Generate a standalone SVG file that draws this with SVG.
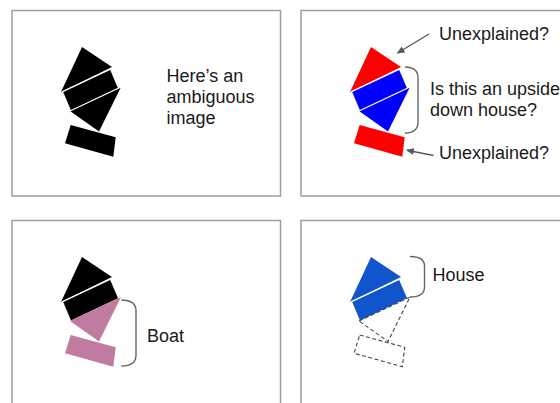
<svg xmlns="http://www.w3.org/2000/svg" xmlns:xlink="http://www.w3.org/1999/xlink" width="560" height="403" viewBox="0 0 560 403">
  <style>
    .panel { fill: #ffffff; stroke: #9e9e9e; stroke-width: 1.5; }
    .lbl { font-family: "Liberation Sans", Arial, sans-serif; font-size: 18px; fill: #1a1a1a; }
    .black { fill: #000000; }
    .red { fill: #ff0000; }
    .blue { fill: #0000ff; }
    .pink { fill: #c27ba0; }
    .hblue { fill: #1155cc; }
    .dash { fill: none; stroke: #444444; stroke-width: 1.1; stroke-dasharray: 4 2.5; }
    .gap { stroke: #ffffff; stroke-width: 1.3; fill: none; }
    .brace { fill: none; stroke: #666666; stroke-width: 1.4; }
    .arrow { fill: none; stroke: #595959; stroke-width: 1.4; marker-end: url(#head); }
  </style>
  <defs>
    <marker id="head" markerWidth="8" markerHeight="8" refX="7" refY="4" orient="auto" markerUnits="userSpaceOnUse">
      <path d="M0,0.5 L8,4 L0,7.5 Z" fill="#595959"/>
    </marker>
    <polygon id="roof" points="82,47 112,67 61,92"/>
    <polygon id="body" points="63,91.5 110,69.5 118,88.2 71,110.5"/>
    <polygon id="tri" points="70,111 121,87 99,131.5"/>
    <polygon id="base" points="70.7,125 115.7,137.3 113.3,156.7 65,143.3"/>
    <line id="gap1" x1="62" y1="91.8" x2="111" y2="69"/>
    <line id="gap2" x1="70" y1="111" x2="121" y2="87"/>
  </defs>

  <!-- Panel 1 -->
  <g id="panel1">
    <rect class="panel" x="12" y="10.5" width="268.5" height="185.5"/>
    <g id="shape1">
      <use xlink:href="#roof" class="black"/>
      <use xlink:href="#body" class="black"/>
      <use xlink:href="#tri" class="black"/>
      <use xlink:href="#base" class="black"/>
      <use xlink:href="#gap1" class="gap"/>
      <use xlink:href="#gap2" class="gap"/>
    </g>
    <text class="lbl" x="166.5" y="82">Here’s an</text>
    <text class="lbl" x="166.5" y="103">ambiguous</text>
    <text class="lbl" x="166.5" y="124">image</text>
  </g>

  <!-- Panel 2 -->
  <g id="panel2">
    <rect class="panel" x="301" y="10.5" width="300" height="185.5"/>
    <g id="shape2" transform="translate(289,0)">
      <use xlink:href="#roof" class="red"/>
      <use xlink:href="#body" class="blue"/>
      <use xlink:href="#tri" class="blue"/>
      <use xlink:href="#base" class="red"/>
      <use xlink:href="#gap1" class="gap"/>
      <use xlink:href="#gap2" class="gap"/>
    </g>
    <text class="lbl" x="439" y="40">Unexplained?</text>
    <text class="lbl" x="430" y="95">Is this an upside</text>
    <text class="lbl" x="430" y="116">down house?</text>
    <text class="lbl" x="439" y="159">Unexplained?</text>
  </g>

  <!-- Panel 3 -->
  <g id="panel3">
    <rect class="panel" x="12" y="220.5" width="268.5" height="200"/>
    <g id="shape3" transform="translate(0,210)">
      <use xlink:href="#roof" class="black"/>
      <use xlink:href="#body" class="black"/>
      <use xlink:href="#tri" class="pink"/>
      <use xlink:href="#base" class="pink"/>
      <use xlink:href="#gap1" class="gap"/>
    </g>
    <text class="lbl" x="147" y="342">Boat</text>
  </g>

  <!-- Panel 4 -->
  <g id="panel4">
    <rect class="panel" x="301" y="220.5" width="300" height="200"/>
    <g id="shape4" transform="translate(289,210)">
      <use xlink:href="#roof" class="hblue"/>
      <use xlink:href="#body" class="hblue"/>
      <use xlink:href="#gap1" class="gap"/>
      <use xlink:href="#tri" class="dash"/>
      <use xlink:href="#base" class="dash"/>
    </g>
    <text class="lbl" x="432.5" y="281">House</text>
  </g>

  <!-- Connectors: brackets and arrows -->
  <g id="connectors">
    <path class="brace" d="M405,67 Q418,67 418,78 L418,122 Q418,133 405,133"/>
    <path class="brace" d="M121.5,300 Q136,300 136,311 L136,355 Q136,366 121.5,366"/>
    <path class="brace" d="M410,256.5 Q424.5,256.5 424.5,266 L424.5,287 Q424.5,297 410,297"/>
    <line class="arrow" x1="429" y1="34" x2="397.5" y2="53"/>
    <line class="arrow" x1="433.5" y1="155.5" x2="407" y2="150.2"/>
  </g>
</svg>
